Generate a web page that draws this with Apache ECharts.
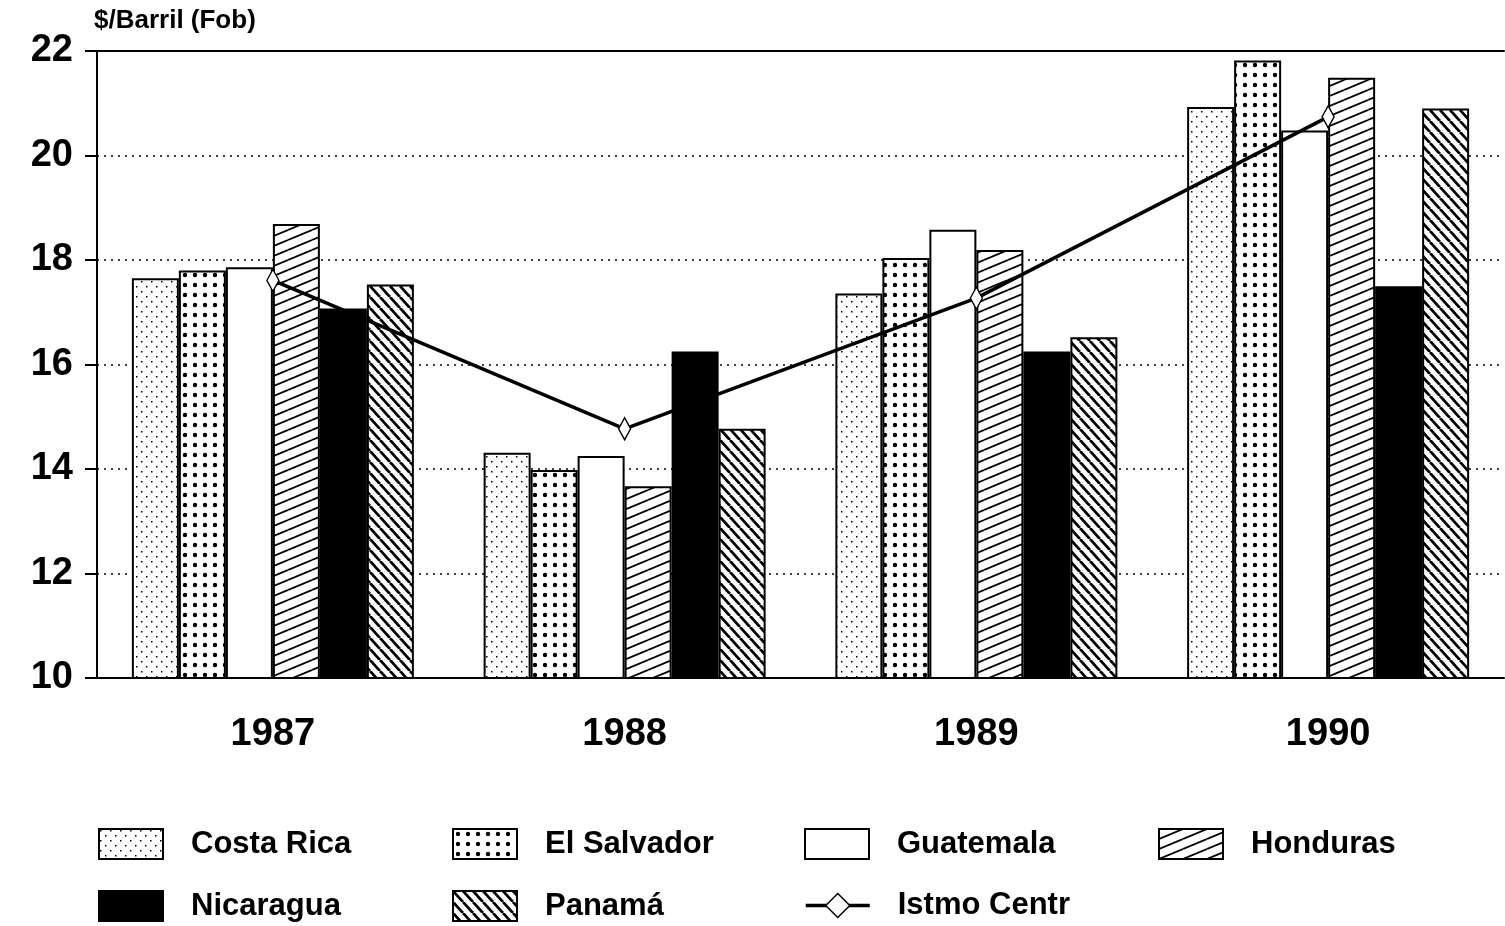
<!DOCTYPE html>
<html>
<head>
<meta charset="utf-8">
<script src="https://cdn.jsdelivr.net/npm/echarts@6/dist/echarts.min.js"></script>
<style>
    html, body { margin: 0; padding: 0; background: #fff; }
    #chart { width: 1505px; height: 926px; }
</style>
</head>
<body>
<div id="chart"></div>
<script>
// datos ($/barril fob)
const years = ['1987', '1988', '1989', '1990'];
const costaRica = [17.65, 14.31, 17.36, 20.93];
const elSalvador = [17.8, 13.98, 18.04, 21.82];
const guatemala = [17.86, 14.25, 18.58, 20.48];
const honduras = [18.69, 13.67, 18.19, 21.49];
const nicaragua = [17.07, 16.25, 16.25, 17.5];
const panama = [17.53, 14.77, 16.52, 20.9];
const istmo = [17.61, 14.77, 17.27, 20.74];
const yMin = 10, yMax = 22, yStep = 2;

const FONT = '"Liberation Sans", Arial, sans-serif';

// rellenos tramados
function pattern(w, h, draw) {
    const c = document.createElement('canvas');
    c.width = w;
    c.height = h;
    const ctx = c.getContext('2d');
    ctx.fillStyle = '#fff';
    ctx.fillRect(0, 0, w, h);
    ctx.fillStyle = '#000';
    ctx.strokeStyle = '#000';
    draw(ctx, w, h);
    return { image: c, repeat: 'repeat' };
}

const fills = {
    costaRica: pattern(10, 10, (ctx) => {
        ctx.fillRect(1, 1, 1.5, 1.5);
        ctx.fillRect(6, 6, 1.5, 1.5);
    }),
    elSalvador: pattern(10, 10, (ctx) => {
        ctx.beginPath();
        ctx.arc(5, 5, 2.2, 0, Math.PI * 2);
        ctx.fill();
    }),
    guatemala: '#fff',
    honduras: pattern(24, 10, (ctx, w, h) => {
        ctx.lineWidth = 1.8;
        [-h, 0, h].forEach((dy) => {
            ctx.beginPath();
            ctx.moveTo(0, h + dy);
            ctx.lineTo(w, dy);
            ctx.stroke();
        });
    }),
    nicaragua: '#000',
    panama: pattern(10, 11, (ctx, w, h) => {
        ctx.lineWidth = 2.8;
        [-w, 0, w].forEach((dx) => {
            ctx.beginPath();
            ctx.moveTo(dx, 0);
            ctx.lineTo(w + dx, h);
            ctx.stroke();
        });
    })
};

const barSeries = [
    { name: 'Costa Rica', data: costaRica, fill: fills.costaRica },
    { name: 'El Salvador', data: elSalvador, fill: fills.elSalvador },
    { name: 'Guatemala', data: guatemala, fill: fills.guatemala },
    { name: 'Honduras', data: honduras, fill: fills.honduras },
    { name: 'Nicaragua', data: nicaragua, fill: fills.nicaragua },
    { name: 'Panamá', data: panama, fill: fills.panama }
];

function getSeries() {
    let arr = barSeries.map((item) => ({
        name: item.name,
        type: 'bar',
        data: item.data,
        barWidth: 47,
        barGap: '0%',
        itemStyle: {
            color: item.fill,
            borderColor: '#000',
            borderWidth: 2
        }
    }));
    arr.push({
        name: 'Istmo Centr',
        type: 'line',
        data: istmo,
        symbol: 'diamond',
        symbolSize: [12, 22],
        z: 5,
        lineStyle: { color: '#000', width: 3.5 },
        itemStyle: { color: '#fff', borderColor: '#000', borderWidth: 1.5 }
    });
    return arr;
}

// leyenda en 4 columnas
const legendPos = [
    ['Costa Rica', 98, 828], ['El Salvador', 452, 828], ['Guatemala', 804, 828], ['Honduras', 1158, 828],
    ['Nicaragua', 98, 890], ['Panamá', 452, 890], ['Istmo Centr', 804, 890]
];
const legends = legendPos.map((l) => {
    let isLine = l[0] === 'Istmo Centr';
    let obj = {
        data: [isLine ? { name: l[0] } : { name: l[0], icon: 'rect' }],
        left: l[1],
        top: l[2],
        padding: 0,
        itemWidth: 64,
        itemHeight: 30,
        selectedMode: false,
        textStyle: {
            fontFamily: FONT,
            fontWeight: 'bold',
            fontSize: 31,
            color: '#000',
            padding: [0, 0, 0, 23]
        }
    };
    if (isLine) {
        obj.lineStyle = { color: '#000', width: 3.5 };
        obj.itemStyle = { color: '#fff', borderColor: '#000', borderWidth: 1.5 };
        obj.symbolRotate = 0;
    }
    return obj;
});

const myChart = echarts.init(document.getElementById('chart'));
myChart.setOption({
    animation: false,
    backgroundColor: '#fff',
    title: {
        text: '$/Barril (Fob)',
        left: 94,
        top: 8,
        padding: 0,
        textStyle: { fontFamily: FONT, fontWeight: 'bold', fontSize: 26, color: '#000' }
    },
    legend: legends,
    grid: {
        left: 97,
        right: 1,
        top: 51,
        bottom: 248
    },
    xAxis: [
        {
            type: 'category',
            data: years,
            axisLine: { lineStyle: { color: '#000', width: 2 } },
            axisTick: { alignWithLabel: true, length: 15, lineStyle: { color: '#000', width: 2 } },
            axisLabel: { fontFamily: FONT, fontWeight: 'bold', fontSize: 38, color: '#000', margin: 38 }
        },
        {
            type: 'category',
            data: years,
            position: 'top',
            axisLine: { lineStyle: { color: '#000', width: 2 } },
            axisTick: { show: false },
            axisLabel: { show: false }
        }
    ],
    yAxis: {
        type: 'value',
        min: yMin,
        max: yMax,
        interval: yStep,
        axisLine: { show: true, lineStyle: { color: '#000', width: 2 } },
        axisTick: { show: true, length: 12, lineStyle: { color: '#000', width: 2 } },
        axisLabel: { fontFamily: FONT, fontWeight: 'bold', fontSize: 38, color: '#000', margin: 24 },
        splitLine: { show: true, lineStyle: { color: '#000', width: 1.5, type: [2, 5] } }
    },
    series: getSeries()
});
</script>
</body>
</html>
